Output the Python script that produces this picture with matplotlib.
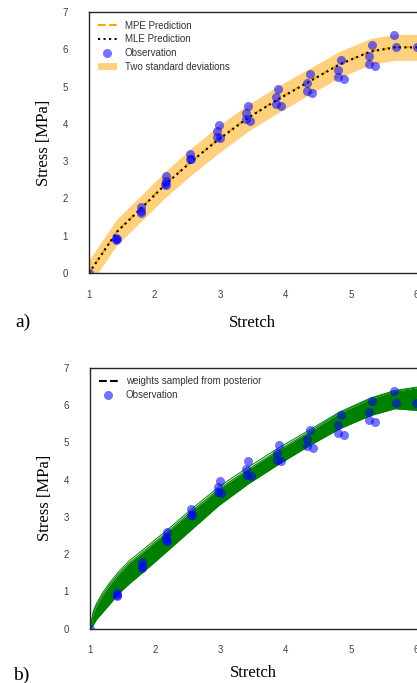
import matplotlib.pyplot as plt
from matplotlib.lines import Line2D
from matplotlib.patches import Patch

# --- data ---

# observations (same in both panels)
obs_stretch = [1.00, 1.41, 1.42, 1.41, 1.80, 1.80, 1.79, 2.18, 2.17, 2.16, 2.18,
               2.54, 2.54, 2.56, 2.99, 2.96, 2.96, 3.00, 3.42, 3.39, 3.40, 3.46,
               3.89, 3.86, 3.86, 3.93, 4.37, 4.33, 4.33, 4.41, 4.84, 4.80, 4.80,
               4.89, 5.32, 5.27, 5.27, 5.36, 5.65, 5.69, 6.00]
obs_stress = [0.00, 0.95, 0.91, 0.88, 1.78, 1.67, 1.62, 2.59, 2.47, 2.38, 2.36,
              3.20, 3.05, 3.05, 3.97, 3.80, 3.66, 3.63, 4.49, 4.29, 4.13, 4.09,
              4.93, 4.71, 4.53, 4.49, 5.33, 5.09, 4.89, 4.84, 5.72, 5.45, 5.26,
              5.19, 6.11, 5.81, 5.60, 5.55, 6.37, 6.05, 6.05]

# panel a) predictions at the load levels
pred_stretch = [1.0, 1.43, 1.8, 2.17, 2.55, 2.97, 3.42, 3.88, 4.35, 4.82, 5.3, 5.67, 6.05]
mpe_stress = [0.0, 1.12, 1.75, 2.39, 2.98, 3.58, 4.16, 4.66, 5.13, 5.60, 5.95, 6.06, 6.06]
mle_stress = [0.0, 1.11, 1.74, 2.38, 2.97, 3.57, 4.15, 4.65, 5.12, 5.59, 5.94, 6.05, 6.05]
two_sd = [0.35, 0.35, 0.35, 0.35, 0.36, 0.37, 0.36, 0.36, 0.35, 0.35, 0.35, 0.35, 0.35]

# panel b) curves from posterior weight samples (envelope + outlying sample)
samp_stretch = [1.0, 1.05, 1.1, 1.2, 1.3, 1.43, 1.6, 1.8, 2.0, 2.17, 2.55, 2.97,
                3.42, 3.88, 4.35, 4.82, 5.3, 5.67, 6.05]
samp_low = [0.0, 0.10, 0.25, 0.45, 0.65, 0.93, 1.20, 1.50, 1.80, 2.06, 2.65, 3.30,
            3.88, 4.40, 4.90, 5.36, 5.72, 5.90, 5.85]
samp_high = [0.0, 0.42, 0.62, 0.92, 1.17, 1.45, 1.76, 2.04, 2.33, 2.57, 3.14, 3.74,
             4.27, 4.78, 5.27, 5.78, 6.17, 6.37, 6.47]
samp_outer = [0.0, 0.47, 0.68, 0.98, 1.23, 1.51, 1.82, 2.10, 2.39, 2.63, 3.20, 3.80,
              4.33, 4.84, 5.32, 5.81, 6.19, 6.39, 6.49]

x_ticks = [1, 2, 3, 4, 5, 6]
y_ticks = [0, 1, 2, 3, 4, 5, 6, 7]

W, H = 417, 683
fig = plt.figure(figsize=(W / 100, H / 100), dpi=100)

serif = 'Liberation Serif'
sans = 'Liberation Sans'


def style_axes(ax, xpad):
    ax.set_xlim(1, 6)
    ax.set_ylim(0, 7)
    ax.set_xticks(x_ticks)
    ax.set_yticks(y_ticks)
    ax.spines['right'].set_visible(False)
    for s in ['left', 'top', 'bottom']:
        ax.spines[s].set_color('0.15')
        ax.spines[s].set_linewidth(1.0)
    ax.tick_params(axis='x', length=0, pad=12, labelsize=7, labelcolor='0.25')
    ax.tick_params(axis='y', length=0, pad=15, labelsize=7, labelcolor='0.25')
    for lab in ax.get_xticklabels() + ax.get_yticklabels():
        lab.set_family(sans)
    ax.set_xlabel('Stretch', family=serif, fontsize=12, labelpad=xpad)
    ax.set_ylabel('Stress [MPa]', family=serif, fontsize=12, labelpad=8)


# --- panel a) ---
ax1 = fig.add_axes([89 / W, (H - 273) / H, (416.5 - 89) / W, 261 / H])
lower = [m - s for m, s in zip(mle_stress, two_sd)]
upper = [m + s for m, s in zip(mle_stress, two_sd)]
ax1.fill_between(pred_stretch, lower, upper, color='orange', alpha=0.5, lw=0)
ax1.plot(pred_stretch, mpe_stress, color='orange', ls='--', lw=1.5)
ax1.plot(pred_stretch, mle_stress, color='black', ls=':', lw=1.5)
ax1.plot(obs_stretch, obs_stress, 'o', color='blue', alpha=0.55, ms=6.5, mew=0)
style_axes(ax1, 11)

h1 = [Line2D([], [], color='orange', ls='--', lw=1.5),
      Line2D([], [], color='black', ls=':', lw=1.5),
      Line2D([], [], color='blue', alpha=0.55, marker='o', ls='', ms=6.5, mew=0),
      Patch(facecolor='orange', alpha=0.5, lw=0)]
leg1 = ax1.legend(h1, ['MPE Prediction', 'MLE Prediction', 'Observation',
                       'Two standard deviations'], labelspacing=0.38,
                  loc='upper left', frameon=False, prop={'family': sans, 'size': 7})
for t in leg1.get_texts():
    t.set_color('0.2')

fig.text(15 / W, (H - 327) / H, 'a)', family=serif, fontsize=14, va='baseline')

# --- panel b) ---
ax2 = fig.add_axes([90 / W, (H - 628.7) / H, (416.5 - 90) / W, 261 / H])
ax2.fill_between(samp_stretch, samp_low, samp_high, color='green', lw=0)
ax2.plot(samp_stretch, samp_low, color='green', lw=0.8)
ax2.plot(samp_stretch, samp_high, color='green', lw=0.8)
ax2.plot(samp_stretch, samp_outer, color='green', lw=0.7)
ax2.plot(obs_stretch, obs_stress, 'o', color='blue', alpha=0.55, ms=6.5, mew=0)
style_axes(ax2, 7)

h2 = [Line2D([], [], color='black', ls='--', lw=1.5),
      Line2D([], [], color='blue', alpha=0.55, marker='o', ls='', ms=6.5, mew=0)]
leg2 = ax2.legend(h2, ['weights sampled from posterior', 'Observation'],
                  labelspacing=0.38,
                  loc='upper left', frameon=False, prop={'family': sans, 'size': 7})
for t in leg2.get_texts():
    t.set_color('0.2')

fig.text(13 / W, (H - 680) / H, 'b)', family=serif, fontsize=14, va='baseline')

fig.savefig('out.png', dpi=100)
